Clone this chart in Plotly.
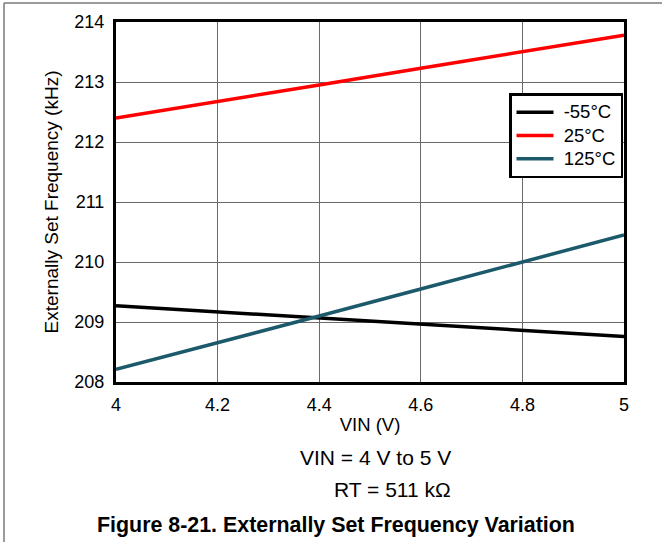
import plotly.graph_objects as go

vin = [4.0, 4.2, 4.4, 4.6, 4.8, 5.0]
f_m55 = [209.27, 209.17, 209.06, 208.96, 208.86, 208.76]
f_25 = [212.40, 212.67, 212.95, 213.23, 213.51, 213.78]
f_125 = [208.21, 208.65, 209.10, 209.55, 210.00, 210.45]
series_names = ["-55°C", "25°C", "125°C"]
series_colors = ["#000000", "#ff0000", "#1c5a6b"]

FONT = "Liberation Sans, Arial, sans-serif"

fig = go.Figure()
for name, ys, col in zip(series_names, [f_m55, f_25, f_125], series_colors):
    label = '<span style="font-size:18.5px">\u00a0' + name + '</span>'
    fig.add_trace(go.Scatter(x=vin, y=ys, mode="lines", name=label,
                             line=dict(color=col, width=3.5)))

W, H = 662, 542
L, R, T, B = 116, 624, 22, 382
pw, ph = R - L, B - T

def px(x):
    return (x - L) / pw

def py(y):
    return (B - y) / ph

fig.update_layout(
    width=W, height=H,
    margin=dict(l=L, r=W - R, t=T, b=H - B, pad=0),
    paper_bgcolor="white", plot_bgcolor="white",
    font=dict(family=FONT, size=18, color="#000000"),
    showlegend=True,
    legend=dict(x=px(509), y=py(93), xanchor="left", yanchor="top",
                bgcolor="white", bordercolor="#000000", borderwidth=2.5,
                font=dict(family=FONT, size=15.6, color="#000000"),
                tracegroupgap=0, itemwidth=37),
    xaxis=dict(range=[4, 5], tickvals=[4, 4.2, 4.4, 4.6, 4.8, 5],
               ticktext=["4", "4.2", "4.4", "4.6", "4.8", "5"],
               tickfont=dict(family=FONT, size=18),
               showgrid=True, gridcolor="#6a6a6a", gridwidth=1,
               showline=True, linecolor="#000000", linewidth=3, mirror=True,
               ticks="", zeroline=False, ticklabelstandoff=4,
               title=dict(text="VIN (V)", font=dict(family=FONT, size=18.5), standoff=5)),
    yaxis=dict(range=[208, 214], tickvals=[208, 209, 210, 211, 212, 213, 214],
               tickfont=dict(family=FONT, size=18),
               showgrid=True, gridcolor="#6a6a6a", gridwidth=1,
               showline=True, linecolor="#000000", linewidth=3, mirror=True,
               ticks="", zeroline=False, ticklabelstandoff=5,
               title=dict(text="Externally Set Frequency (kHz)",
                          font=dict(family=FONT, size=19), standoff=11)),
)

# frame lines (top and left)
fig.add_shape(type="line", xref="paper", yref="paper",
              x0=px(4), x1=px(662), y0=py(3), y1=py(3),
              line=dict(color="#7a7a7a", width=1.5))
fig.add_shape(type="line", xref="paper", yref="paper",
              x0=px(4), x1=px(4), y0=py(3), y1=py(542),
              line=dict(color="#7a7a7a", width=1.5))

fig.add_annotation(text="VIN = 4 V to 5 V", xref="paper", yref="paper",
                   x=px(453), y=py(457), xanchor="right", yanchor="middle",
                   showarrow=False, font=dict(family=FONT, size=21))
fig.add_annotation(text="RT = 511 kΩ", xref="paper", yref="paper",
                   x=px(453), y=py(489), xanchor="right", yanchor="middle",
                   showarrow=False, font=dict(family=FONT, size=21))
fig.add_annotation(text="<b>Figure 8-21. Externally Set Frequency Variation</b>",
                   xref="paper", yref="paper",
                   x=px(336), y=py(525), xanchor="center", yanchor="middle",
                   showarrow=False, font=dict(family=FONT, size=21.4))

fig.write_html("out.html", config={"displayModeBar": False},
               post_script="document.body.style.margin='0';document.body.style.overflow='hidden';")
